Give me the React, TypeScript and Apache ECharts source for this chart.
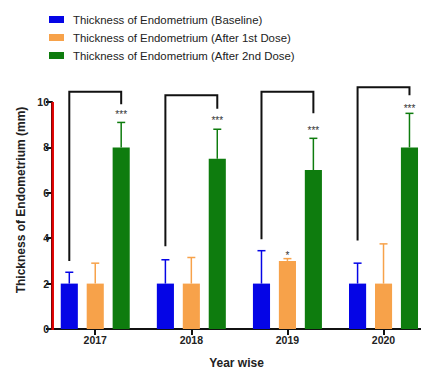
import React, { useEffect, useRef } from "react";
import * as echarts from "echarts";

const years = ["2017", "2018", "2019", "2020"];
const seriesNames = [
  "Thickness of Endometrium (Baseline)",
  "Thickness of Endometrium (After 1st Dose)",
  "Thickness of Endometrium (After 2nd Dose)",
];
const baseline = [2, 2, 2, 2];
const baselineErr = [2.5, 3.05, 3.45, 2.9];
const dose1 = [2, 2, 3, 2];
const dose1Err = [2.9, 3.15, 3.1, 3.75];
const dose2 = [8, 7.5, 7, 8];
const dose2Err = [9.1, 8.8, 8.4, 9.5];
const bracketLeft = [3.0, 3.65, 3.95, 3.9];
const bracketTop = [10.45, 10.3, 10.45, 10.65];
const bracketRight = [9.9, 9.7, 9.5, 10.3];
const dose2Stars = ["***", "***", "***", "***"];
const dose2StarsAt = [9.45, 9.2, 8.75, 9.7];
const dose1Stars = ["", "", "*", ""];
const dose1StarsAt = [0, 0, 3.25, 0];
const yTicks = [0, 2, 4, 6, 8, 10];

const colors = ["#0505e6", "#f7a24a", "#0e7c0e"];
const offsets = [-0.27, 0, 0.27];
const barW = 0.178;
const lead = 0.45;
const xPos = years.map((_, i) => i + lead);

export default function App() {
  const ref = useRef<HTMLDivElement>(null);
  useEffect(() => {
    if (!ref.current) return;
    const chart = echarts.init(ref.current, null, { renderer: "svg" });
    const vals = [baseline, dose1, dose2];
    const errs = [baselineErr, dose1Err, dose2Err];
    const starTexts = [years.map(() => ""), dose1Stars, dose2Stars];
    const starAts = [years.map(() => 0), dose1StarsAt, dose2StarsAt];

    const barSeries = vals.map((arr, s) => ({
      type: "custom",
      name: seriesNames[s],
      clip: false,
      itemStyle: { color: colors[s] },
      data: arr.map((v, i) => [xPos[i], v, errs[s][i], starAts[s][i]]),
      renderItem: (params: any, api: any) => {
        const i = params.dataIndex;
        const x = api.value(0) + offsets[s];
        const v = api.value(1);
        const e = api.value(2);
        const top = api.coord([x, v]);
        const base = api.coord([x, 0]);
        const errTop = api.coord([x, e]);
        const w = api.size([barW, 0])[0];
        const children: any[] = [
          {
            type: "line",
            shape: { x1: top[0], y1: top[1], x2: errTop[0], y2: errTop[1] },
            style: { stroke: colors[s], lineWidth: 1.5 },
          },
          {
            type: "line",
            shape: { x1: errTop[0] - 4, y1: errTop[1], x2: errTop[0] + 4, y2: errTop[1] },
            style: { stroke: colors[s], lineWidth: 1.5 },
          },
          {
            type: "rect",
            shape: { x: top[0] - w / 2, y: top[1], width: w, height: base[1] - top[1] },
            style: { fill: colors[s] },
          },
        ];
        const st = starTexts[s][i];
        if (st) {
          const sp = api.coord([x, api.value(3)]);
          children.push({
            type: "text",
            x: sp[0],
            y: sp[1],
            style: {
              text: st,
              align: "center",
              verticalAlign: "middle",
              fontSize: 10,
              fontFamily: "Liberation Sans",
              fill: "#333",
            },
          });
        }
        return { type: "group", children };
      },
    }));

    const bracketSeries = {
      type: "custom",
      name: "brackets",
      clip: false,
      data: years.map((_, i) => [xPos[i], bracketLeft[i], bracketTop[i], bracketRight[i]]),
      renderItem: (params: any, api: any) => {
        const i = api.value(0);
        const p1 = api.coord([i + offsets[0], api.value(1)]);
        const p2 = api.coord([i + offsets[0], api.value(2)]);
        const p3 = api.coord([i + offsets[2], api.value(2)]);
        const p4 = api.coord([i + offsets[2], api.value(3)]);
        return {
          type: "polyline",
          shape: { points: [p1, p2, p3, p4] },
          style: { stroke: "#111", lineWidth: 2, fill: null },
        };
      },
    };

    const yAxisLineSeries = {
      type: "custom",
      name: "y axis line",
      clip: false,
      silent: true,
      z: 10,
      data: [[0.01, yTicks[0], yTicks[yTicks.length - 1]]],
      renderItem: (params: any, api: any) => {
        const a = api.coord([api.value(0), api.value(1)]);
        const b = api.coord([api.value(0), api.value(2)]);
        return {
          type: "rect",
          shape: { x: a[0] - 1.5, y: b[1], width: 2.5, height: a[1] - b[1] + 1 },
          style: { fill: "#e00000" },
        };
      },
    };

    chart.setOption({
      animation: false,
      textStyle: { fontFamily: "Liberation Sans" },
      legend: {
        orient: "vertical",
        left: 49,
        top: 14,
        padding: 0,
        itemWidth: 15,
        itemHeight: 7,
        itemGap: 7,
        icon: "rect",
        data: seriesNames,
        textStyle: { fontSize: 11.4, color: "#222", fontFamily: "Liberation Sans", padding: [0, 0, 0, 4] },
      },
      grid: { left: 52, right: 0, top: 102, bottom: 42 },
      xAxis: {
        type: "value",
        min: 0,
        max: 3.84,
        splitLine: { show: false },
        axisLine: { show: true, lineStyle: { color: "#111", width: 2 } },
        axisTick: {
          show: true,
          customValues: xPos,
          length: 6,
          lineStyle: { color: "#111", width: 2 },
        },
        axisLabel: {
          customValues: xPos,
          formatter: (v: number) => years[Math.round(v - lead)] ?? "",
          fontSize: 10.5,
          fontWeight: "bold",
          color: "#222",
          margin: 5,
        },
        name: "Year wise",
        nameLocation: "middle",
        nameGap: 28,
        nameTextStyle: { fontSize: 12, fontWeight: "bold", color: "#222" },
      },
      yAxis: {
        type: "value",
        min: 0,
        max: 10,
        interval: 2,
        splitLine: { show: false },
        axisLine: { show: true, lineStyle: { color: "#111", width: 2 } },
        axisTick: { show: true, length: 6, lineStyle: { color: "#111", width: 2 } },
        axisLabel: {
          fontSize: 10.5,
          fontWeight: "bold",
          color: "#222",
          margin: 3,
          formatter: (v: number) => (yTicks.includes(v) ? String(v) : ""),
        },
      },
      graphic: [
        {
          type: "text",
          x: 21,
          y: 200,
          rotation: Math.PI / 2,
          style: {
            text: "Thickness of Endometrium (mm)",
            align: "center",
            verticalAlign: "middle",
            fontSize: 12,
            fontWeight: "bold",
            fontFamily: "Liberation Sans",
            fill: "#222",
          },
        },
      ],
      series: [...barSeries, bracketSeries, yAxisLineSeries],
    });
    return () => chart.dispose();
  }, []);
  return (
    <div
      ref={ref}
      style={{ position: "fixed", left: 0, top: 0, width: 421, height: 374, background: "#fff" }}
    />
  );
}
